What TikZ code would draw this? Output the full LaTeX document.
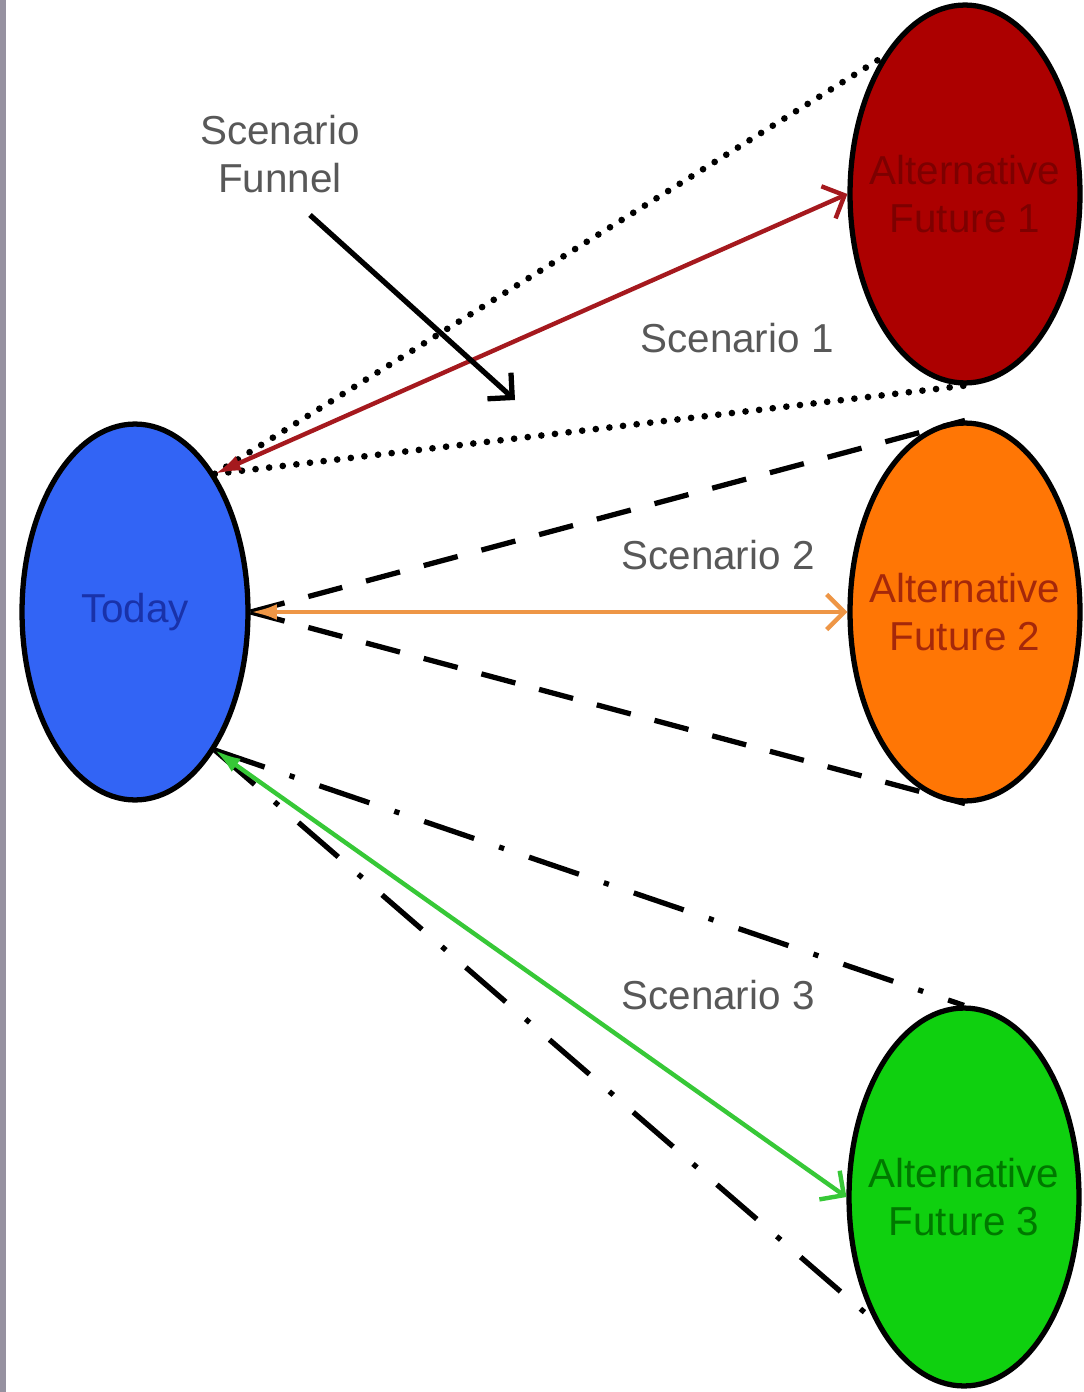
\documentclass[tikz,border=0pt]{standalone}
\usepackage{fontspec}
\setmainfont{Liberation Sans}
\usetikzlibrary{shapes.geometric,arrows.meta,positioning}

\definecolor{sidebar}{RGB}{150,145,160}
\definecolor{todayblue}{RGB}{50,100,245}
\definecolor{todaytext}{RGB}{25,50,170}
\definecolor{futurered}{RGB}{172,0,0}
\definecolor{futureredtext}{RGB}{125,0,0}
\definecolor{futureorange}{RGB}{255,118,5}
\definecolor{futureorangetext}{RGB}{165,40,10}
\definecolor{futuregreen}{RGB}{15,208,15}
\definecolor{futuregreentext}{RGB}{0,120,0}
\definecolor{redline}{RGB}{165,25,30}
\definecolor{orangeline}{RGB}{238,150,70}
\definecolor{greenline}{RGB}{55,200,55}
\definecolor{labelgray}{RGB}{88,88,88}

\begin{document}
\begin{tikzpicture}[x=0.02cm, y=-0.02cm,
  big/.style={font=\fontsize{23}{27}\selectfont},
  era/.style={ellipse, draw=black, line width=3pt, inner xsep=-10pt, inner ysep=0pt, big, align=center, minimum width=4.6cm, minimum height=7.56cm},
  tag/.style={big, text=labelgray, align=center},
  scen/.style={line width=2.5pt, {Latex[length=15pt,width=9pt]}-{Straight Barb[length=10pt,width=20pt]}},
  dots/.style={line width=3.8pt, line cap=round, dash pattern=on 0pt off 7.8pt},
  dashes/.style={line width=3pt, dash pattern=on 20pt off 14pt},
  dashdots/.style={line width=3pt, dash pattern=on 30pt off 15pt on 3pt off 15pt}]
  \useasboundingbox[fill=white] (0,0) rectangle (1084,1392);
  \fill[sidebar] (0,0) rectangle (6,1392);

  % today and the three futures
  \node[era, fill=todayblue, text=todaytext, inner xsep=0pt, minimum width=4.52cm, minimum height=7.52cm] (today) at (135,612) {Today};
  \node[era, fill=futurered, text=futureredtext] (future1) at (965,194) {Alternative\\Future 1};
  \node[era, fill=futureorange, text=futureorangetext] (future2) at (965,612) {Alternative\\Future 2};
  \node[era, fill=futuregreen, text=futuregreentext] (future3) at (964,1197) {Alternative\\Future 3};

  % funnels
  \draw[dots] (today.60) -- (future1.121);
  \draw[dots] (today.60) -- (future1.south);
  \draw[dashes] (today.east) -- (future2.north);
  \draw[dashes] (today.east) -- (future2.south);
  \draw[dashdots] (today.-60) -- (future3.north);
  \draw[dashdots] (today.-60) -- (future3.234);

  % scenarios
  \draw[scen, redline] (today.60) -- (future1.west);
  \draw[scen, orangeline] (today.east) -- (future2.west);
  \draw[scen, greenline] (today.-60) -- (future3.west);

  \node[tag] (scen1) at (737,338) {Scenario 1};
  \node[tag] (scen2) at (718,555) {Scenario 2};
  \node[tag] (scen3) at (718,995) {Scenario 3};

  \node[tag] (funnel) at (280,154) {Scenario\\Funnel};
  \coordinate (ptrtail) at (310,215);
  \coordinate (ptrhead) at (515,400);
  \draw[line width=3pt, -{Straight Barb[length=10pt,width=20pt]}] (ptrtail) -- (ptrhead);
\end{tikzpicture}
\end{document}
